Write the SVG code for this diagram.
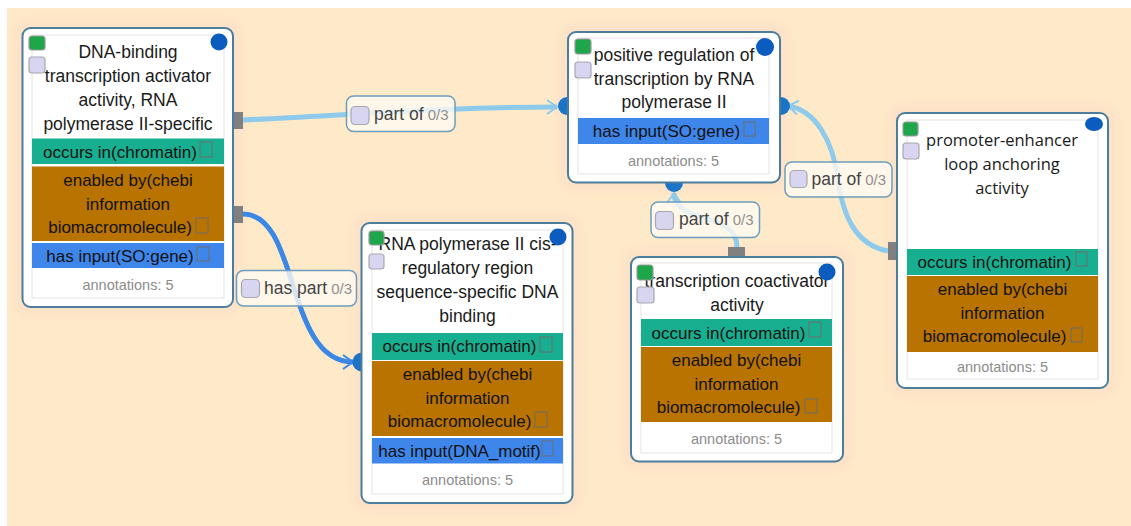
<svg xmlns="http://www.w3.org/2000/svg" width="1131" height="526" viewBox="0 0 1131 526">
<defs>
<style>
.frame{fill:#fff;stroke:#4C7D9C;stroke-width:2}
.inner{fill:none;stroke:#E4E4E4;stroke-width:1}
.teal{fill:#18AF90}
.brown{fill:#B97300}
.blue{fill:#3E86EA}
.t{font-family:"Liberation Sans",Arial,sans-serif;font-size:17.5px;fill:#1a1a1a;text-anchor:middle}
.t5{font-family:"Open Sans","Liberation Sans",sans-serif;font-size:16.5px;fill:#1a1a1a;text-anchor:middle}
.b{font-family:"Liberation Sans",Arial,sans-serif;font-size:17px;fill:#111;text-anchor:middle}
.ann{font-family:"Liberation Sans",Arial,sans-serif;font-size:14.5px;fill:#8c8c8c;text-anchor:middle}
.cb{fill:none;stroke:#6d6d6d;stroke-width:1}
.green{fill:#1EA64A;stroke:#9a9a9a;stroke-width:1.2}
.lav{fill:#D7D5F0;stroke:#A8A8AE;stroke-width:1.2}
.dot{fill:#0A5CBF}
.halo{fill:#FCDCC8;opacity:0.55;filter:url(#blur)}
.el{fill:#FFFAF2;fill-opacity:0.8;stroke:#6E9DBC;stroke-width:1.5}
.lt{font-family:"Liberation Sans",Arial,sans-serif;font-size:17.5px;fill:#444}
.lc{font-size:15px;fill:#8f8f8f}
.src{fill:#808080}
.tgt{fill:#1C74C6}
.el1{fill:none;stroke:#8ECAEB;stroke-width:5}
.el2{fill:none;stroke:#3B87E6;stroke-width:5}
</style>
<filter id="blur" x="-20%" y="-20%" width="140%" height="140%"><feGaussianBlur stdDeviation="5"/></filter>
<marker id="arL" viewBox="0 0 12 16" markerWidth="12" markerHeight="16" refX="11" refY="8" orient="auto" markerUnits="userSpaceOnUse">
<path d="M1,1 L11,8 L1,15" fill="none" stroke="#8ECAEB" stroke-width="2"/>
</marker>
<marker id="arD" viewBox="0 0 12 16" markerWidth="12" markerHeight="16" refX="11" refY="8" orient="auto" markerUnits="userSpaceOnUse">
<path d="M1,1 L11,8 L1,15" fill="none" stroke="#3B87E6" stroke-width="2"/>
</marker>
</defs>
<rect x="0" y="0" width="1131" height="526" fill="#fff"/>
<rect x="7" y="8" width="1124" height="518" fill="#FEEAC8"/>
<g id="halos">
<rect class="halo" x="12" y="18" width="231" height="299" rx="16"/>
<rect class="halo" x="351" y="213" width="231" height="300" rx="16"/>
<rect class="halo" x="558" y="22" width="232" height="170" rx="16"/>
<rect class="halo" x="621" y="247" width="232" height="224" rx="16"/>
<rect class="halo" x="887" y="103" width="231" height="295" rx="16"/>
</g>
<g id="connectors">
<path class="el1" d="M243,120 C350,115 450,107 557,107" marker-end="url(#arL)"/>
<path class="el2" d="M243,214 C300,214 285,362 353,362" marker-end="url(#arD)"/>
<path class="el1" d="M737,247 C737,210 674,225 674,193" marker-end="url(#arL)"/>
<path class="el1" d="M888,251 C855,245 843,215 838,180 C833,140 815,110 788,106" marker-end="url(#arL)"/>
<rect class="src" x="233" y="112" width="10" height="17"/>
<rect class="src" x="233" y="206" width="10" height="17"/>
<rect class="src" x="888" y="242" width="9" height="18"/>
<rect class="src" x="728" y="247" width="17" height="10"/>
<circle class="tgt" cx="567" cy="106" r="9"/>
<circle class="tgt" cx="781" cy="106" r="9"/>
<circle class="tgt" cx="674" cy="183" r="9"/>
<circle class="tgt" cx="362" cy="362" r="9.5"/>
<g id="label-e1">
<rect class="el" x="346.5" y="96" width="108.5" height="35.5" rx="7"/>
<rect class="lav" x="351" y="106.5" width="18" height="18" rx="4"/>
<text class="lt" x="374" y="120">part of<tspan class="lc" dx="4">0/3</tspan></text>
</g>
<g id="label-e2">
<rect class="el" x="236.5" y="270.5" width="120" height="35.5" rx="7"/>
<rect class="lav" x="241.5" y="279.5" width="18" height="18" rx="4"/>
<text class="lt" x="264" y="294">has part<tspan class="lc" dx="4">0/3</tspan></text>
</g>
<g id="label-e3">
<rect class="el" x="651" y="202" width="108.5" height="35.5" rx="7"/>
<rect class="lav" x="655.5" y="211.5" width="18" height="18" rx="4"/>
<text class="lt" x="679" y="225">part of<tspan class="lc" dx="4">0/3</tspan></text>
</g>
<g id="label-e4">
<rect class="el" x="785" y="162" width="107" height="35" rx="7"/>
<rect class="lav" x="790" y="170.5" width="17" height="17" rx="4"/>
<text class="lt" x="811.5" y="185">part of<tspan class="lc" dx="4">0/3</tspan></text>
</g>
</g>
<g id="n1">
<rect class="frame" x="22.5" y="28" width="210.5" height="279" rx="8"/>
<rect class="inner" x="32" y="35" width="192" height="263"/>
<text class="t" x="128" y="58">DNA-binding</text>
<text class="t" x="128" y="82">transcription activator</text>
<text class="t" x="128" y="106">activity, RNA</text>
<text class="t" x="128" y="130">polymerase II-specific</text>
<rect class="teal" x="32" y="138.5" width="192" height="25.5"/>
<text class="b" x="120" y="158">occurs in(chromatin)</text>
<rect class="cb" x="200" y="142" width="12" height="15"/>
<rect class="brown" x="32" y="166.5" width="192" height="74.5"/>
<text class="b" x="128" y="186">enabled by(chebi</text>
<text class="b" x="128" y="210">information</text>
<text class="b" x="120" y="233">biomacromolecule)</text>
<rect class="cb" x="196" y="218" width="12" height="15"/>
<rect class="blue" x="32" y="243" width="192" height="25"/>
<text class="b" x="120" y="262">has input(SO:gene)</text>
<rect class="cb" x="197" y="247" width="12" height="14"/>
<text class="ann" x="128" y="290">annotations: 5</text>
<rect class="green" x="29" y="36" width="16" height="14" rx="3"/>
<rect class="lav" x="29" y="57" width="16" height="16" rx="3"/>
<circle class="dot" cx="219" cy="42" r="8.5"/>
</g>
<g id="n2">
<rect class="frame" x="361.5" y="223" width="211" height="280" rx="8"/>
<rect class="inner" x="372" y="230" width="191" height="264"/>
<text class="t" x="467.5" y="250">RNA polymerase II cis-</text>
<text class="t" x="467.5" y="274">regulatory region</text>
<text class="t" x="467.5" y="298">sequence-specific DNA</text>
<text class="t" x="467.5" y="322">binding</text>
<rect class="teal" x="372" y="333" width="191" height="27"/>
<text class="b" x="459.5" y="352">occurs in(chromatin)</text>
<rect class="cb" x="540" y="337" width="12" height="15"/>
<rect class="brown" x="372" y="361" width="191" height="75"/>
<text class="b" x="467.5" y="380">enabled by(chebi</text>
<text class="b" x="467.5" y="404">information</text>
<text class="b" x="459.5" y="427">biomacromolecule)</text>
<rect class="cb" x="535" y="412" width="12" height="15"/>
<rect class="blue" x="372" y="438" width="191" height="25.5"/>
<text class="b" x="459.5" y="457">has input(DNA_motif)</text>
<rect class="cb" x="542" y="441" width="11" height="15"/>
<text class="ann" x="467.5" y="485">annotations: 5</text>
<rect class="green" x="369" y="231" width="15" height="14" rx="3"/>
<rect class="lav" x="369" y="254" width="15" height="15" rx="3"/>
<circle class="dot" cx="558" cy="237" r="8.5"/>
</g>
<g id="n3">
<rect class="frame" x="568" y="32" width="212" height="150.5" rx="8"/>
<rect class="inner" x="578" y="38" width="191" height="136"/>
<text class="t" x="674" y="61">positive regulation of</text>
<text class="t" x="674" y="85">transcription by RNA</text>
<text class="t" x="674" y="108">polymerase II</text>
<rect class="blue" x="578" y="118" width="191" height="26"/>
<text class="b" x="666.5" y="137">has input(SO:gene)</text>
<rect class="cb" x="744" y="122" width="11" height="14"/>
<text class="ann" x="673.5" y="166">annotations: 5</text>
<rect class="green" x="575" y="39" width="16" height="15" rx="3"/>
<rect class="lav" x="575" y="62" width="16" height="16" rx="3"/>
<circle class="dot" cx="765" cy="47" r="9"/>
</g>
<g id="n4">
<rect class="frame" x="631" y="257" width="212" height="204.5" rx="8"/>
<rect class="inner" x="641" y="263" width="191" height="190"/>
<text class="t" x="737" y="287">transcription coactivator</text>
<text class="t" x="737" y="311">activity</text>
<rect class="teal" x="641" y="319" width="191" height="27"/>
<text class="b" x="728.5" y="338.5">occurs in(chromatin)</text>
<rect class="cb" x="809" y="322" width="12" height="15"/>
<rect class="brown" x="641" y="347" width="191" height="75"/>
<text class="b" x="736.5" y="366">enabled by(chebi</text>
<text class="b" x="736.5" y="390">information</text>
<text class="b" x="728.5" y="413">biomacromolecule)</text>
<rect class="cb" x="805" y="399" width="12" height="14"/>
<text class="ann" x="736.5" y="444">annotations: 5</text>
<rect class="green" x="637" y="265" width="16" height="15" rx="3"/>
<rect class="lav" x="637" y="287" width="17" height="16" rx="3"/>
<circle class="dot" cx="827" cy="272" r="8.5"/>
</g>
<g id="n5">
<rect class="frame" x="897" y="113" width="211" height="275" rx="8"/>
<rect class="inner" x="907" y="120" width="191" height="259"/>
<text class="t5" x="1002" y="146">promoter-enhancer</text>
<text class="t5" x="1002" y="170">loop anchoring</text>
<text class="t5" x="1002" y="194">activity</text>
<rect class="teal" x="907" y="249" width="191" height="26"/>
<text class="b" x="994.5" y="268">occurs in(chromatin)</text>
<rect class="cb" x="1076" y="252" width="11" height="14"/>
<rect class="brown" x="907" y="276" width="191" height="76"/>
<text class="b" x="1002.5" y="295">enabled by(chebi</text>
<text class="b" x="1002.5" y="319">information</text>
<text class="b" x="994.5" y="342">biomacromolecule)</text>
<rect class="cb" x="1071" y="328" width="11" height="14"/>
<text class="ann" x="1002.5" y="372">annotations: 5</text>
<rect class="green" x="903" y="122" width="15" height="14" rx="3"/>
<rect class="lav" x="903" y="143" width="16" height="16" rx="3"/>
<ellipse class="dot" cx="1094" cy="124" rx="9" ry="7"/>
</g>
</svg>
